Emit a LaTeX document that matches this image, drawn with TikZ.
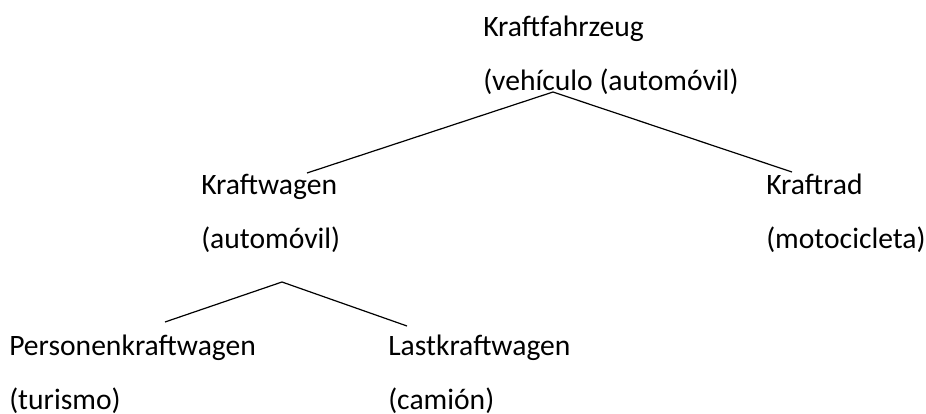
\documentclass[tikz,border=0pt]{standalone}
\usepackage{fontspec}
\setmainfont{Carlito}
\begin{document}
\begin{tikzpicture}[x=0.75pt,y=-0.75pt,
  term/.style={anchor=base west,inner sep=0pt,align=left,
    font=\fontsize{22.2}{40.5}\selectfont},
  branch/.style={draw=black,line width=0.9pt}]
\useasboundingbox (0,0) rectangle (926,414);
% terms: German word with Spanish gloss underneath (anchored at the gloss baseline)
\node[term] (kfz) at (483,90)  {Kraftfahrzeug\\(vehículo (automóvil)};
\node[term] (kw)  at (201,248) {Kraftwagen\\(automóvil)};
\node[term] (kr)  at (766,248) {Kraftrad\\(motocicleta)};
\node[term] (pkw) at (9,409)   {Personenkraftwagen\\(turismo)};
\node[term] (lkw) at (388,409) {Lastkraftwagen\\(camión)};
% branch points and ends
\coordinate (kfzfork) at (553,92);
\coordinate (kwend)   at (307,173);
\coordinate (krend)   at (792,172);
\coordinate (kwfork)  at (282,282);
\coordinate (pkwend)  at (165,322);
\coordinate (lkwend)  at (407,326);
\draw[branch] (kwend) -- (kfzfork) -- (krend);
\draw[branch] (pkwend) -- (kwfork) -- (lkwend);
\end{tikzpicture}
\end{document}
